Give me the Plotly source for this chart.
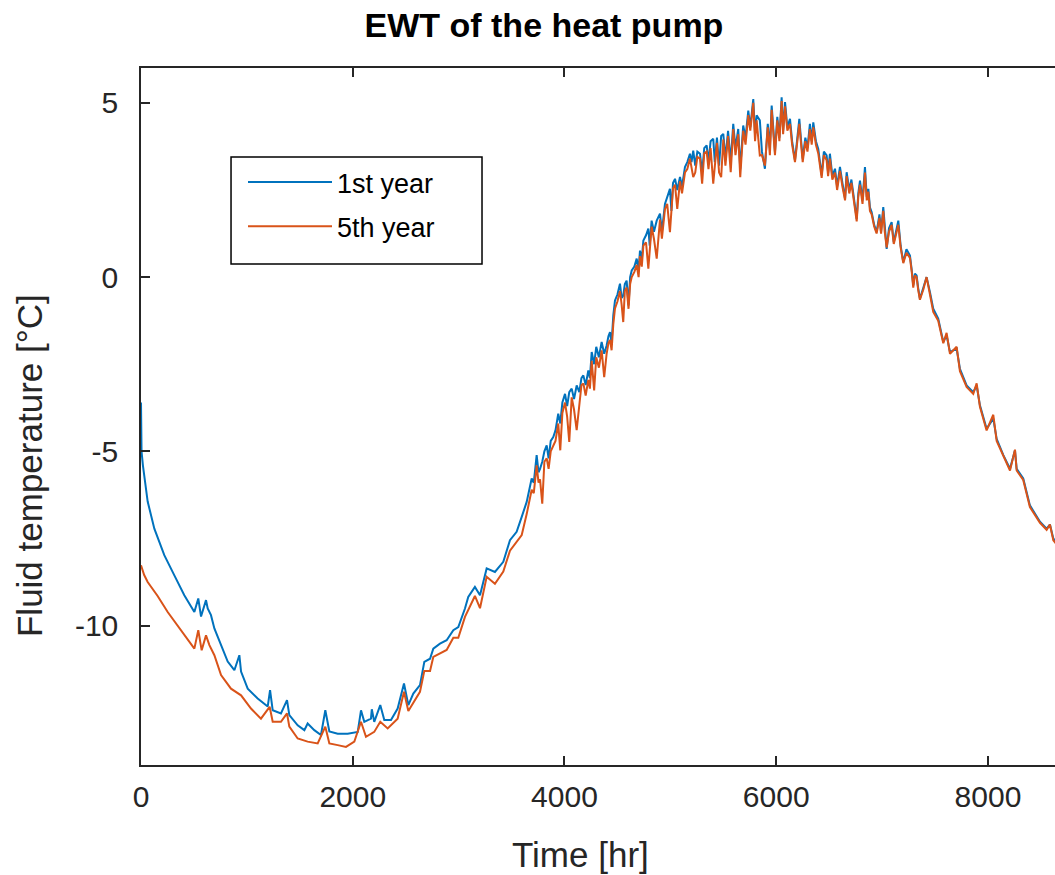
import plotly.graph_objects as go

# ---------------- data ----------------
# 1st year, cooling-down / early rise part
hours_1st_early = [0, 5, 18, 63, 126, 220, 315, 409, 504, 541,
                   567, 614, 630, 661, 693, 756, 819, 882, 929, 945,
                   1008, 1102, 1197, 1219, 1244, 1322, 1379, 1401, 1480, 1543,
                   1574, 1637, 1700, 1741, 1779, 1858, 1952, 2047, 2078, 2109,
                   2172, 2180, 2203, 2260, 2298, 2361, 2424, 2484, 2525, 2572,
                   2635, 2676, 2730, 2761, 2824, 2887, 2950, 2997, 3060, 3091,
                   3154, 3202, 3233, 3265, 3343, 3422, 3485, 3548, 3596, 3643]
temp_1st_early = [-3.6, -5.0, -5.4, -6.44, -7.22, -7.98, -8.56, -9.13, -9.61, -9.22,
                  -9.74, -9.27, -9.51, -9.70, -10.08, -10.56, -11.03, -11.28, -10.85, -11.32,
                  -11.81, -12.09, -12.32, -11.85, -12.43, -12.52, -12.14, -12.57, -12.86, -13.0,
                  -12.81, -13.0, -13.14, -12.43, -13.04, -13.10, -13.10, -13.05, -12.43, -12.76,
                  -12.67, -12.40, -12.76, -12.28, -12.71, -12.71, -12.38, -11.66, -12.28, -11.95,
                  -11.71, -11.04, -10.95, -10.66, -10.52, -10.42, -10.13, -10.04, -9.51, -9.18,
                  -8.89, -9.13, -8.75, -8.36, -8.46, -8.17, -7.55, -7.31, -6.88, -6.45]

# 5th year, cooling-down / early rise part
hours_5th_early = [0, 30, 63, 157, 252, 346, 441, 504, 541, 573,
                   614, 646, 693, 756, 850, 945, 1039, 1133, 1215, 1244,
                   1322, 1379, 1401, 1480, 1574, 1669, 1741, 1779, 1858, 1936,
                   2015, 2078, 2125, 2203, 2260, 2330, 2424, 2484, 2525, 2572,
                   2635, 2676, 2730, 2761, 2824, 2887, 2950, 2997, 3060, 3091,
                   3154, 3202, 3233, 3265, 3343, 3422, 3485, 3548, 3596, 3643]
temp_5th_early = [-8.27, -8.55, -8.75, -9.15, -9.61, -9.99, -10.37, -10.66, -10.13, -10.71,
                  -10.28, -10.56, -10.85, -11.42, -11.81, -12.0, -12.38, -12.67, -12.33, -12.76,
                  -12.76, -12.52, -12.90, -13.24, -13.33, -13.38, -12.90, -13.38, -13.43, -13.48,
                  -13.33, -12.76, -13.19, -13.05, -12.76, -12.95, -12.67, -11.9, -12.45, -12.2,
                  -11.9, -11.3, -11.3, -10.9, -10.8, -10.7, -10.35, -10.35, -9.75, -9.55,
                  -9.15, -9.5, -9.0, -8.6, -8.8, -8.45, -7.85, -7.6, -7.4, -6.8]

# noisy middle part (same hours for both years)
hours_mid = [3690, 3710, 3737, 3755, 3769, 3790, 3810, 3832, 3850, 3870,
             3894, 3915, 3941, 3960, 3980, 4005, 4025, 4045, 4068, 4090,
             4115, 4140, 4160, 4178, 4200, 4225, 4240, 4257, 4280, 4300,
             4325, 4351, 4375, 4398, 4415, 4430, 4445, 4461, 4477, 4500,
             4524, 4540, 4555, 4570, 4587, 4605, 4620, 4635, 4660, 4682,
             4700, 4713, 4730, 4745, 4770, 4792, 4805, 4823, 4845, 4871,
             4902, 4920, 4949, 4970, 4996, 5010, 5025, 5044, 5065, 5091,
             5110, 5138, 5160, 5185, 5200, 5216, 5235, 5255, 5280, 5300,
             5320, 5343, 5360, 5380, 5405, 5420, 5440, 5460, 5480, 5500,
             5520, 5545, 5570, 5594, 5615, 5641, 5660, 5688, 5710, 5736,
             5755, 5783, 5800, 5815, 5845, 5865, 5893, 5920, 5940, 5957,
             5975, 5988, 6010, 6030, 6051, 6065, 6083, 6105, 6130, 6150,
             6177, 6200, 6218, 6235, 6250, 6275, 6295, 6318, 6335, 6350,
             6375, 6397, 6415, 6429, 6450, 6476, 6490, 6507, 6530, 6555,
             6575, 6602, 6625, 6650, 6665, 6690, 6710, 6728, 6745, 6760,
             6775, 6791, 6815, 6838, 6855, 6870, 6885, 6901, 6925, 6948,
             6975, 6990, 7011, 7025, 7043, 7065, 7090, 7110, 7130, 7153,
             7175, 7200, 7230, 7263, 7280, 7294, 7310, 7326, 7340, 7357,
             7390, 7420, 7452]
temp_1st_mid = [-5.78, -5.9, -5.11, -5.6, -5.50, -5.3, -5.0, -4.83, -5.2, -4.7,
                -4.59, -4.4, -3.92, -4.2, -3.6, -3.35, -3.7, -3.3, -3.20, -3.5,
                -3.11, -3.3, -2.9, -2.82, -3.1, -2.68, -2.9, -2.15, -2.5, -2.0,
                -2.3, -1.86, -2.2, -1.96, -1.7, -1.58, -1.9, -1.10, -0.67, -0.5,
                -0.19, -0.6, -0.53, -0.2, -0.10, -0.81, 0.0, 0.19, 0.3, 0.53,
                0.2, 0.76, 0.5, 1.05, 1.2, 1.39, 0.9, 1.62, 1.3, 1.62,
                1.82, 1.3, 2.10, 2.3, 2.53, 1.9, 2.7, 2.82, 2.5, 2.87,
                2.6, 3.16, 3.3, 3.54, 3.3, 3.63, 3.2, 3.6, 3.54, 3.0,
                3.7, 3.78, 3.3, 3.9, 3.97, 3.3, 4.0, 3.2, 4.05, 4.11,
                3.4, 4.2, 3.3, 4.40, 3.7, 4.25, 3.1, 4.35, 4.0, 4.78,
                4.3, 5.11, 4.1, 4.64, 4.50, 3.6, 3.11, 4.4, 3.7, 4.92,
                4.2, 3.59, 4.6, 4.0, 5.16, 4.2, 5.02, 4.3, 4.54, 3.9,
                3.35, 4.1, 4.54, 3.9, 3.40, 4.0, 3.7, 4.40, 3.9, 4.44,
                3.9, 3.68, 3.3, 2.92, 3.6, 3.49, 3.0, 3.54, 2.9, 3.11,
                2.6, 3.16, 2.7, 2.25, 3.01, 2.5, 2.8, 2.44, 2.1, 1.67,
                2.4, 2.77, 2.2, 3.16, 2.3, 2.53, 2.0, 1.87, 1.5, 1.29,
                1.8, 1.3, 2.01, 1.4, 0.81, 1.4, 1.58, 1.0, 1.3, 1.62,
                0.9, 0.43, 0.8, 0.62, 0.2, -0.24, 0.1, 0.05, -0.3, -0.62,
                -0.3, 0.0, -0.43]
temp_5th_mid = [-6.1, -6.2, -5.4, -5.9, -5.8, -6.5, -5.3, -5.2, -5.5, -5.0,
                -4.85, -4.7, -4.2, -4.97, -3.9, -3.6, -4.0, -4.73, -3.45, -3.8,
                -4.39, -3.6, -3.1, -3.05, -3.4, -2.95, -3.2, -2.4, -3.25, -2.3,
                -2.6, -2.1, -2.87, -2.2, -1.9, -1.8, -2.1, -1.35, -0.9, -0.7,
                -0.4, -0.8, -1.29, -0.4, -0.3, -0.91, -0.2, 0.0, 0.15, 0.35,
                0.0, 0.6, 0.3, 0.9, 1.0, 0.24, 0.8, 1.45, 1.1, 0.53,
                1.65, 1.1, 1.95, 2.1, 1.29, 1.8, 2.55, 2.65, 1.96, 2.75,
                2.4, 3.0, 3.1, 3.4, 3.1, 2.87, 3.0, 3.45, 3.4, 2.68,
                3.55, 3.6, 3.1, 3.7, 2.68, 3.2, 3.85, 3.0, 2.87, 3.95,
                3.2, 4.05, 3.01, 4.25, 3.5, 4.1, 2.87, 4.2, 3.8, 4.65,
                4.2, 5.0, 3.9, 4.5, 3.49, 3.5, 3.2, 4.3, 3.5, 4.8,
                4.1, 3.5, 4.5, 3.9, 5.05, 4.1, 4.9, 4.2, 4.4, 3.8,
                3.3, 4.0, 4.4, 3.8, 3.3, 3.9, 3.6, 4.25, 3.8, 4.3,
                3.8, 3.55, 3.2, 2.85, 3.5, 3.35, 2.9, 3.4, 2.8, 3.0,
                2.5, 3.05, 2.6, 2.2, 2.9, 2.4, 2.7, 2.35, 2.0, 1.6,
                2.3, 2.65, 2.1, 3.0, 2.2, 2.45, 1.9, 1.8, 1.45, 1.25,
                1.7, 1.25, 1.9, 1.3, 0.85, 1.3, 1.5, 0.95, 1.2, 1.5,
                0.85, 0.4, 0.7, 0.55, 0.15, -0.3, 0.05, 0.0, -0.35, -0.65,
                -0.35, 0.0, -0.5]

# late decline part (same hours for both years)
hours_late = [7483, 7530, 7578, 7609, 7641, 7704, 7735, 7798, 7861, 7893,
              7924, 7987, 8050, 8082, 8145, 8208, 8255, 8271, 8333, 8396,
              8491, 8554, 8585, 8617, 8680, 8760]
temp_1st_late = [-0.91, -1.19, -1.86, -1.67, -2.15, -2.05, -2.63, -3.11, -3.30, -3.11,
                 -3.68, -4.35, -4.06, -4.64, -5.11, -5.50, -4.97, -5.50, -5.78, -6.55,
                 -7.02, -7.22, -7.10, -7.50, -7.75, -8.0]
temp_5th_late = [-1.0, -1.25, -1.9, -1.6, -2.2, -2.0, -2.7, -3.15, -3.35, -3.05,
                 -3.72, -4.4, -3.95, -4.7, -5.15, -5.55, -4.95, -5.55, -5.82, -6.6,
                 -7.05, -7.25, -7.1, -7.55, -7.8, -8.05]

series_names = ["1st year", "5th year"]
x_ticks = [0, 2000, 4000, 6000, 8000]
y_ticks = [-10, -5, 0, 5]
y_tick_text = ["-10", "-5", "0", "5"]

x_1st = hours_1st_early + hours_mid + hours_late
y_1st = temp_1st_early + temp_1st_mid + temp_1st_late
x_5th = hours_5th_early + hours_mid + hours_late
y_5th = temp_5th_early + temp_5th_mid + temp_5th_late

FONT = "Liberation Sans, Arial, Helvetica, sans-serif"
AX = "#262626"

fig = go.Figure()
fig.add_trace(go.Scatter(x=x_1st, y=y_1st, mode="lines", name=series_names[0], legendgroup="a",
                         line=dict(color="#0072BD", width=2)))
fig.add_trace(go.Scatter(x=x_5th, y=y_5th, mode="lines", name=series_names[1], legendgroup="b",
                         line=dict(color="#D95319", width=2)))

# legend frame
fig.add_shape(type="rect", xref="paper", yref="paper", x0=0.0985, x1=0.3731, y0=0.7188, y1=0.8723,
              line=dict(color="black", width=1.5), fillcolor="white", layer="above")

fig.update_layout(
    width=1055, height=875,
    margin=dict(l=141, r=0, t=68, b=110),
    paper_bgcolor="white", plot_bgcolor="white",
    font=dict(family=FONT, color=AX, size=30),
    title=dict(text="<b>EWT of the heat pump</b>", x=0.5156, xanchor="center",
               y=0.9714, yanchor="middle", font=dict(size=34, color="black", family=FONT)),
    showlegend=True,
    legend=dict(x=0.1116, y=0.8709, xanchor="left", yanchor="top",
                bgcolor="rgba(0,0,0,0)", borderwidth=0, traceorder="grouped",
                font=dict(size=27, color="black", family=FONT),
                itemwidth=84, tracegroupgap=6),
    annotations=[
        dict(text="Fluid temperature [°C]", xref="paper", yref="paper", x=-0.1214, y=0.429,
             xanchor="center", yanchor="middle", textangle=-90, showarrow=False,
             font=dict(size=35, color=AX, family=FONT)),
        dict(text="Time [hr]", xref="paper", yref="paper", x=0.4814, y=-0.1291,
             xanchor="center", yanchor="middle", showarrow=False,
             font=dict(size=35, color=AX, family=FONT)),
    ],
)
fig.update_xaxes(range=[0, 8633], tickvals=x_ticks, ticks="inside", ticklen=9, tickwidth=1.5,
                 tickcolor=AX, showline=True, linecolor=AX, linewidth=1.5, mirror="ticks",
                 showgrid=False, zeroline=False, tickfont=dict(size=30, color=AX),
                 ticklabelstandoff=4)
fig.update_yaxes(range=[-14, 6], tickvals=y_ticks, ticktext=y_tick_text, ticks="inside", ticklen=9,
                 tickwidth=1.5, tickcolor=AX, showline=True, linecolor=AX, linewidth=1.5, mirror=False,
                 showgrid=False, zeroline=False, tickfont=dict(size=30, color=AX),
                 ticklabelstandoff=15)

fig.write_html("out.html")
